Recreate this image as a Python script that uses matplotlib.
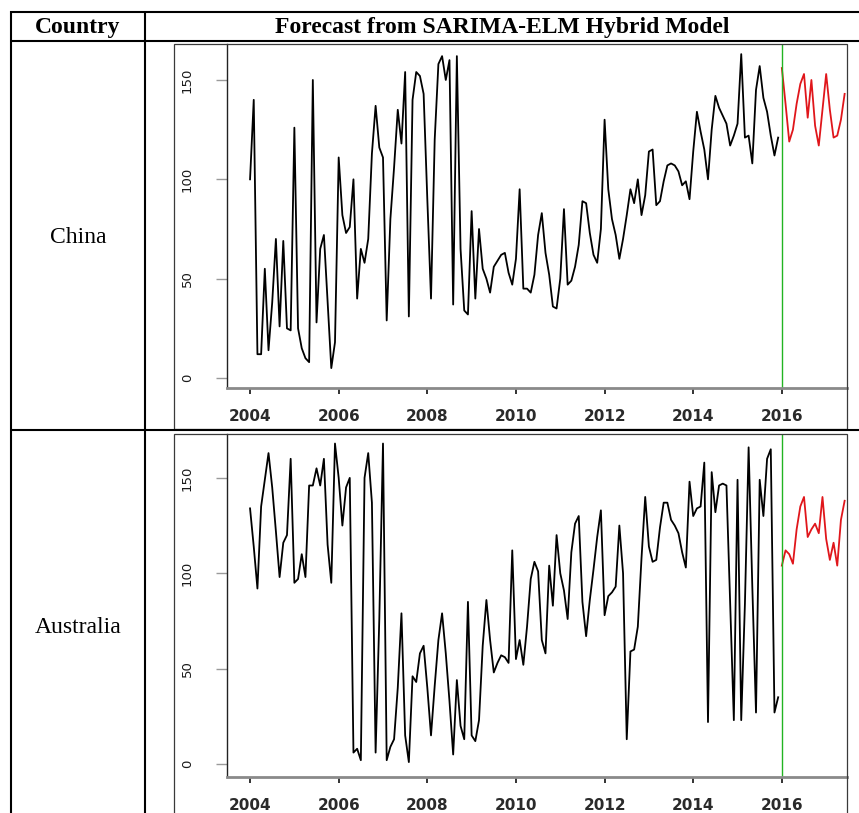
import numpy as np
import matplotlib
matplotlib.use('Agg')
import matplotlib.pyplot as plt
from matplotlib.lines import Line2D
from matplotlib.patches import Rectangle

# monthly values, Jan 2004 - Dec 2015
china_hist = [
    100, 140, 12, 12, 55, 14, 38, 70, 26, 69, 25, 24,
    126, 25, 15, 10, 8, 150, 28, 65, 72, 38, 5, 18,
    111, 82, 73, 76, 100, 40, 65, 58, 70, 113, 137, 116,
    111, 29, 80, 106, 135, 118, 154, 31, 140, 154, 152, 143,
    90, 40, 120, 158, 162, 150, 160, 37, 162, 65, 34, 32,
    84, 40, 75, 55, 50, 43, 56, 59, 62, 63, 53, 47,
    60, 95, 45, 45, 43, 52, 72, 83, 63, 52, 36, 35,
    50, 85, 47, 49, 56, 67, 89, 88, 73, 62, 58, 75,
    130, 95, 80, 72, 60, 70, 82, 95, 88, 100, 82, 92,
    114, 115, 87, 89, 99, 107, 108, 107, 104, 97, 99, 90,
    114, 134, 124, 115, 100, 125, 142, 136, 132, 128, 117, 122,
    128, 163, 121, 122, 108, 145, 157, 141, 134, 122, 112, 121,
]
# forecast Jan 2016 onwards
china_fc = [156, 138, 119, 125, 138, 148, 153, 131, 150, 127, 117, 135,
            153, 135, 121, 122, 130, 143]

australia_hist = [
    134, 114, 92, 135, 149, 163, 145, 122, 98, 116, 120, 160,
    95, 97, 110, 98, 146, 146, 155, 146, 160, 115, 95, 168,
    150, 125, 145, 150, 6, 8, 2, 150, 163, 137, 6, 76,
    168, 2, 9, 13, 40, 79, 15, 1, 46, 43, 58, 62,
    40, 15, 41, 65, 79, 58, 33, 5, 44, 20, 13, 85,
    15, 12, 23, 62, 86, 65, 48, 53, 57, 56, 53, 112,
    55, 65, 52, 72, 97, 106, 101, 65, 58, 104, 83, 120,
    100, 91, 76, 111, 126, 130, 85, 67, 86, 102, 119, 133,
    78, 88, 90, 93, 125, 100, 13, 59, 60, 72, 108, 140,
    114, 106, 107, 124, 137, 137, 128, 125, 121, 111, 103, 148,
    130, 134, 135, 158, 22, 153, 132, 146, 147, 146, 84, 23,
    149, 23, 84, 166, 93, 27, 149, 130, 160, 165, 27, 35,
]
australia_fc = [104, 112, 110, 105, 123, 135, 140, 119, 123, 126, 121, 140,
                118, 107, 116, 104, 128, 138]

countries = ['China', 'Australia']
col_headers = ['Country', 'Forecast from SARIMA-ELM Hybrid Model']
year_ticks = [2004, 2006, 2008, 2010, 2012, 2014, 2016]
value_ticks = [0, 50, 100, 150]
start_year = 2004
fc_year = 2016

W, H = 859, 813
fig = plt.figure(figsize=(W / 100, H / 100), dpi=100)


def fx(x):
    return x / W


def fy(y):
    return 1 - y / H


def hline(y, x0, x1, lw=1.5):
    fig.add_artist(Line2D([fx(x0), fx(x1)], [fy(y), fy(y)], color='black', lw=lw,
                          transform=fig.transFigure, solid_capstyle='butt'))


def vline(x, y0, y1, lw=1.5):
    fig.add_artist(Line2D([fx(x), fx(x)], [fy(y0), fy(y1)], color='black', lw=lw,
                          transform=fig.transFigure, solid_capstyle='butt'))


# table grid
hline(12.5, 10, W)
hline(41, 10, W)
hline(430, 10, W)
vline(11, 11.5, H)
vline(145, 11.5, H)

serif = 'Liberation Serif'
fig.text(fx(78), fy(27), col_headers[0], ha='center', va='center',
         fontsize=17, fontweight='bold', family=serif)
fig.text(fx(502), fy(27), col_headers[1], ha='center', va='center',
         fontsize=17, fontweight='bold', family=serif)

panels = [
    # frame top, axes bottom, ylim, label y
    dict(name=countries[0], hist=china_hist, fc=china_fc,
         top=44, bottom=388, frame_bottom=429, ylim=(-5.0, 168.1), label_y=237),
    dict(name=countries[1], hist=australia_hist, fc=australia_fc,
         top=434, bottom=777, frame_bottom=H + 2, ylim=(-6.8, 173.0), label_y=627),
]

for p in panels:
    fig.text(fx(78), fy(p['label_y']), p['name'], ha='center', va='center',
             fontsize=17, family=serif)

    # border of the pasted plot image
    fig.add_artist(Rectangle((fx(174), fy(p['frame_bottom'])),
                             fx(847) - fx(174), fy(p['top']) - fy(p['frame_bottom']),
                             transform=fig.transFigure, fill=False,
                             edgecolor='#3a3a3a', lw=0.9))

    ax = fig.add_axes([fx(227), fy(p['bottom']), fx(847) - fx(227),
                       fy(p['top']) - fy(p['bottom'])])
    ax.patch.set_alpha(0)

    t_hist = start_year + np.arange(len(p['hist'])) / 12
    t_fc = fc_year + np.arange(len(p['fc'])) / 12
    ax.plot(t_hist, p['hist'], color='black', lw=1.3)
    ax.plot(t_fc, p['fc'], color='#e0161b', lw=1.3)
    ax.axvline(fc_year, color='#22b422', lw=1.0)

    ax.set_xlim(2003.48, 2017.47)
    ax.set_ylim(*p['ylim'])

    for s in ['top', 'right']:
        ax.spines[s].set_visible(False)
    ax.spines['left'].set_color('#222222')
    ax.spines['left'].set_linewidth(1.0)
    ax.spines['bottom'].set_color('#8a8a8a')
    ax.spines['bottom'].set_linewidth(2.0)

    ax.set_xticks(year_ticks)
    ax.set_xticklabels([str(y) for y in year_ticks])
    ax.tick_params(axis='x', direction='out', length=4, width=1.2, color='#111111',
                   pad=11, labelsize=11, labelcolor='#2a2a2a')
    for lab in ax.get_xticklabels():
        lab.set_fontweight('bold')
        lab.set_family('DejaVu Sans')

    ax.set_yticks(value_ticks)
    ax.set_yticklabels([str(v) for v in value_ticks], rotation=90, va='center')
    ax.tick_params(axis='y', direction='out', length=8, width=1.0, color='#9a9a9a',
                   pad=16, labelsize=9.5, labelcolor='#1a1a1a')

fig.savefig('out.png', dpi=100)
